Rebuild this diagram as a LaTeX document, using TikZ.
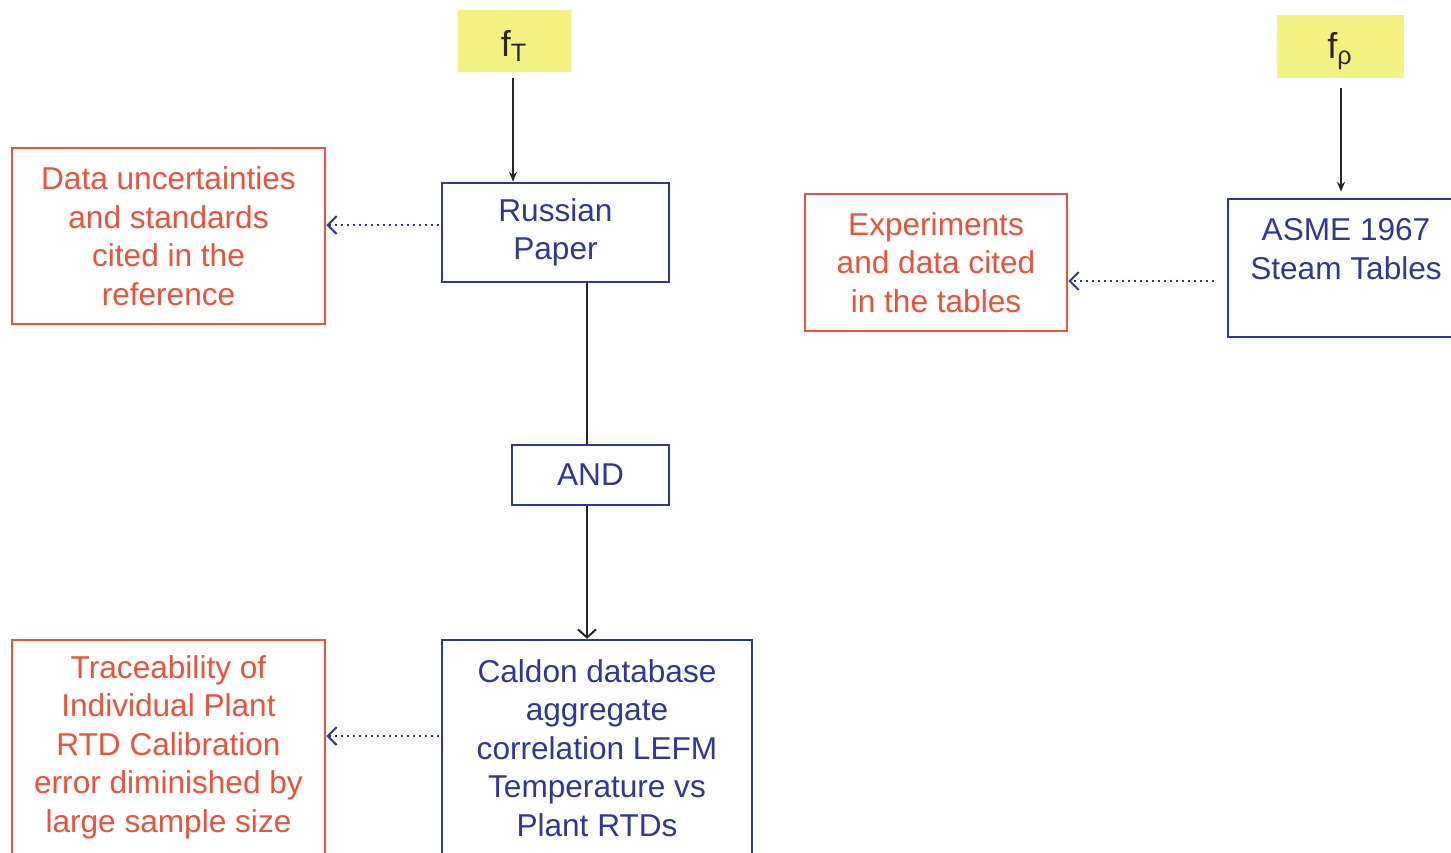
\documentclass[tikz,border=0pt]{standalone}
\usepackage{fontspec}
\setmainfont{Liberation Sans}
\usetikzlibrary{arrows.meta}
\definecolor{bxblue}{RGB}{48,56,150}
\definecolor{bxred}{RGB}{236,82,58}
\definecolor{fyel}{RGB}{242,242,128}
\definecolor{arrgray}{RGB}{40,40,40}
\tikzset{
  txtfont/.style={font=\fontsize{15.8}{19.25}\selectfont},
  bluebox/.style={draw=bxblue, line width=1.25pt, text=bxblue, align=center, inner sep=0pt, txtfont},
  redbox/.style={draw=bxred, line width=1.25pt, text=bxred, align=center, inner sep=0pt, txtfont},
  yelbox/.style={fill=fyel, text=arrgray, inner sep=0pt, font=\fontsize{18}{20}\selectfont},
  bluetxt/.style={text=bxblue, align=center, inner sep=0pt, txtfont},
  redtxt/.style={text=bxred, align=center, inner sep=0pt, txtfont},
  solidarr/.style={draw=arrgray, line width=1pt, -{Stealth[length=5pt,width=4pt]}},
  openarr/.style={draw=arrgray, line width=1pt, -{Straight Barb[length=4pt,width=9pt]}},
  dotarr/.style={draw=bxblue, line width=1.25pt, dash pattern=on 1pt off 2pt,
    -{Straight Barb[length=4.5pt,width=9pt,line width=1pt]}},
}
\begin{document}
\begin{tikzpicture}[x=0.5pt,y=-0.5pt]
\useasboundingbox (0,0) rectangle (1451,852);
\fill[white] (0,0) rectangle (1451,852);
% yellow factor boxes
\node[yelbox, minimum width=56.5pt, minimum height=31pt] (fT) at (514.5,41) {};
\node[text=arrgray, inner sep=0pt, font=\fontsize{18}{20}\selectfont] (fTtxt) at (514,46) {f\textsubscript{T}};
\node[yelbox, minimum width=63.5pt, minimum height=31.5pt] (frho) at (1340.5,46.5) {};
\node[text=arrgray, inner sep=0pt, font=\fontsize{18}{20}\selectfont] (frhotxt) at (1340,51) {f\textsubscript{ρ}};
% boxes
\node[redbox, minimum width=156.5pt, minimum height=88pt] (red1) at (168.5,236)
  {Data uncertainties\\and standards\\cited in the\\reference};
\node[bluebox, minimum width=113.5pt, minimum height=49.5pt] (russian) at (555.5,232.5)
  {Russian\\Paper};
\node[bluebox, minimum width=78.5pt, minimum height=30pt] (and) at (590.5,475) {AND};
\node[bluebox, minimum width=155pt, minimum height=112pt] (caldon) at (597,752) {};
\node[bluetxt] (caldontxt) at (597,748)
  {Caldon database\\aggregate\\correlation LEFM\\Temperature vs\\Plant RTDs};
\node[redbox, minimum width=156.5pt, minimum height=112pt] (red2) at (168.5,752) {};
\node[redtxt] (red2txt) at (168.5,747)
  {Traceability of\\Individual Plant\\RTD Calibration\\error diminished by\\large sample size};
\node[redbox, minimum width=131pt, minimum height=68.5pt] (exp) at (936,262.5)
  {Experiments\\and data cited\\in the tables};
\node[bluebox, minimum width=130pt, minimum height=69pt] (asme) at (1358,268) {};
\node[bluetxt] (asmetxt) at (1346,249) {ASME 1967\\Steam Tables};
% connectors
\draw[solidarr, shorten <=3pt] (fT.south -| 513,0) -- (russian.north -| 513,0);
\draw[solidarr, shorten <=5pt, shorten >=3pt] (frho.south -| 1341,0) -- (asme.north -| 1341,0);
\draw[draw=arrgray, line width=1pt] (russian.south -| 587,0) -- (and.north -| 587,0);
\draw[openarr] (and.south -| 587,0) -- (caldon.north -| 587,0);
\draw[dotarr, shorten <=1pt] (russian.west |- 0,225) -- (red1.east |- 0,225);
\draw[dotarr, shorten <=1pt] (caldon.west |- 0,736) -- (red2.east |- 0,736);
\draw[dotarr, shorten <=6.5pt] (asme.west |- 0,281) -- (exp.east |- 0,281);
\end{tikzpicture}
\end{document}
